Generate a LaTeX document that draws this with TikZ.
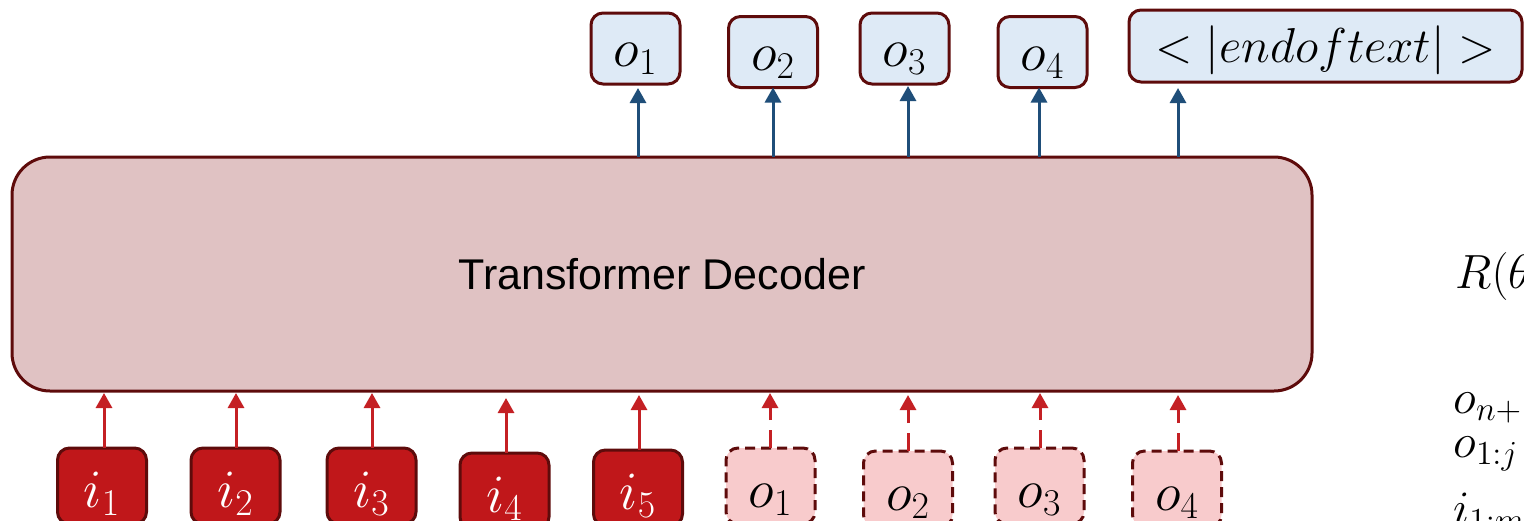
\documentclass[tikz,border=0pt]{standalone}
\usepackage{fix-cm}
\usepackage{fontspec}
\setsansfont{Liberation Sans}
\usetikzlibrary{arrows.meta,calc}
\definecolor{frame}{HTML}{5E0B0B}
\definecolor{decfill}{HTML}{E0C2C3}
\definecolor{outblue}{HTML}{DEEAF6}
\definecolor{inred}{HTML}{C0171A}
\definecolor{prevpink}{HTML}{F8CBCC}
\definecolor{arrblue}{HTML}{1F4E79}
\definecolor{arrred}{HTML}{C42024}
\newcommand\lowtext[2]{\raisebox{-#1}[0pt][0pt]{#2}}
\begin{document}
\begin{tikzpicture}[x=0.5pt,y=-0.5pt,
  tok/.style={draw=frame, line width=1.5pt, rounded corners=6pt, inner sep=0pt, outer sep=0pt,
    minimum width=44.5pt, minimum height=35.5pt, font=\fontsize{27}{31}\selectfont},
  outtok/.style={tok, fill=outblue},
  intok/.style={tok, fill=inred, text=white, minimum height=38pt},
  prevtok/.style={tok, fill=prevpink, dash pattern=on 5pt off 3pt, minimum height=38pt},
  uparr/.style={-{Triangle[length=7.5pt,width=8pt]}, line width=1.5pt, draw=arrblue},
  inarr/.style={-{Triangle[length=7.5pt,width=8pt]}, line width=1.5pt, draw=arrred},
  dasharr/.style={inarr, dash pattern=on 9pt off 5pt},
  sidetext/.style={anchor=base west, inner sep=0pt, font=\fontsize{24}{28}\selectfont}
]
\useasboundingbox (0,0) rectangle (1524,520);
\clip (0,0) rectangle (1524,520);

% decoder
\node[draw=frame, fill=decfill, line width=1.5pt, rounded corners=19pt, outer sep=0pt,
  minimum width=650pt, minimum height=117pt,
  font=\sffamily\fontsize{21.5}{26}\selectfont] (dec) at (662,274) {Transformer Decoder};

% outputs
\node[outtok] (o1t) at (635.5,48.5) {\lowtext{9pt}{$o_1$}};
\node[outtok] (o2t) at (773,52) {\lowtext{9pt}{$o_2$}};
\node[outtok] (o3t) at (904.5,48.5) {\lowtext{9pt}{$o_3$}};
\node[outtok] (o4t) at (1042.5,52) {\lowtext{9pt}{$o_4$}};
\node[outtok, minimum width=196.5pt, minimum height=36pt, font=\fontsize{24.5}{28}\selectfont]
  (eot) at (1325.5,46) {\lowtext{8pt}{$<|endoftext|>$}};

\coordinate (a1) at (638,0);
\coordinate (a2) at (773,0);
\coordinate (a3) at (908,0);
\coordinate (a4) at (1039,0);
\coordinate (a5) at (1178,0);
\draw[uparr, shorten >=2pt] (dec.north -| a1) -- (o1t.south -| a1);
\draw[uparr] (dec.north -| a2) -- (o2t.south -| a2);
\draw[uparr, shorten >=1pt] (dec.north -| a3) -- (o3t.south -| a3);
\draw[uparr] (dec.north -| a4) -- (o4t.south -| a4);
\draw[uparr, shorten >=3pt] (dec.north -| a5) -- (eot.south -| a5);

% inputs
\node[intok] (i1) at (102,486) {\lowtext{10.5pt}{$i_1$}};
\node[intok] (i2) at (235.5,486) {\lowtext{10.5pt}{$i_2$}};
\node[intok] (i3) at (371.5,486) {\lowtext{10.5pt}{$i_3$}};
\node[intok] (i4) at (504.5,491) {\lowtext{10.5pt}{$i_4$}};
\node[intok] (i5) at (638,488) {\lowtext{10.5pt}{$i_5$}};
\node[prevtok] (d1) at (770.5,486) {\lowtext{10.5pt}{$o_1$}};
\node[prevtok] (d2) at (908,489) {\lowtext{10.5pt}{$o_2$}};
\node[prevtok] (d3) at (1039.5,486) {\lowtext{10.5pt}{$o_3$}};
\node[prevtok] (d4) at (1177,489) {\lowtext{10.5pt}{$o_4$}};

\coordinate (b1) at (104,0);
\coordinate (b2) at (236,0);
\coordinate (b3) at (372,0);
\coordinate (b4) at (506,0);
\coordinate (b5) at (639,0);
\coordinate (b6) at (770,0);
\coordinate (b7) at (908,0);
\coordinate (b8) at (1040,0);
\coordinate (b9) at (1178,0);
\draw[inarr, shorten >=1pt] (i1.north -| b1) -- (dec.south -| b1);
\draw[inarr, shorten >=1pt] (i2.north -| b2) -- (dec.south -| b2);
\draw[inarr, shorten >=1pt] (i3.north -| b3) -- (dec.south -| b3);
\draw[inarr, shorten >=3.5pt] (i4.north -| b4) -- (dec.south -| b4);
\draw[inarr, shorten >=2pt] (i5.north -| b5) -- (dec.south -| b5);
\draw[dasharr, shorten >=1pt] (d1.north -| b6) -- (dec.south -| b6);
\draw[dasharr, shorten >=2pt] (d2.north -| b7) -- (dec.south -| b7);
\draw[dasharr, shorten >=1pt] (d3.north -| b8) -- (dec.south -| b8);
\draw[dasharr, shorten >=2pt] (d4.north -| b9) -- (dec.south -| b9);

% right-hand (cut-off) text
\node[sidetext] (rt) at (1455,288) {$R(\theta$};
\node[sidetext] (s1) at (1453,413) {$o_{n+}$};
\node[sidetext] (s2) at (1453,457) {$o_{1:j}$};
\node[sidetext] (s3) at (1453,524) {$i_{1:m}$};
\end{tikzpicture}
\end{document}
